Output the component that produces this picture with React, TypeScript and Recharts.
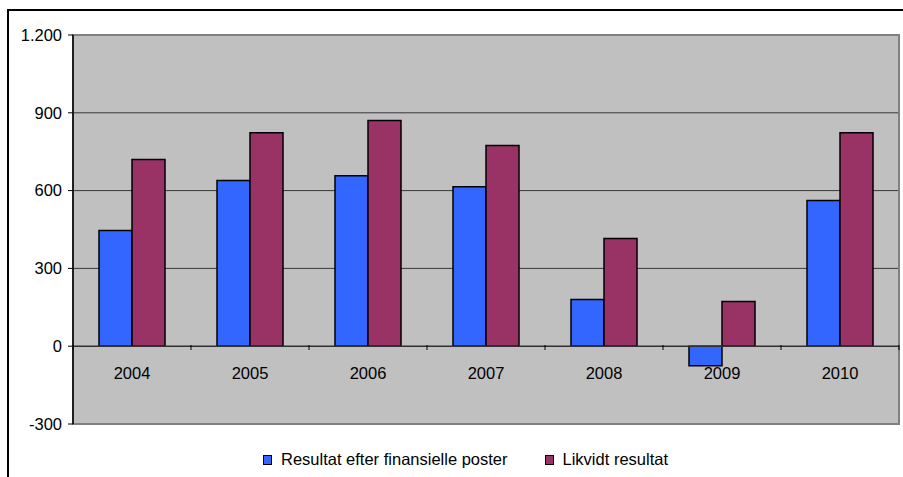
import {
  BarChart, Bar, XAxis, YAxis, CartesianGrid, ReferenceLine, ReferenceArea, Legend,
} from "recharts";

const years = ["2004", "2005", "2006", "2007", "2008", "2009", "2010"];
const resultatEfterFin = [446, 639, 657, 615, 180, -75, 562];
const likvidtResultat = [720, 823, 870, 774, 415, 172, 823];
const yTicks = [-300, 0, 300, 600, 900, 1200];

const data = years.map((year, i) => ({
  year,
  resultat: resultatEfterFin[i],
  likvidt: likvidtResultat[i],
}));

const FONT = "'Liberation Sans', Arial, sans-serif";
const fmt = (v: number) => v.toLocaleString("da-DK");

// category labels sit just under the zero line, inside the plot
const YearTick = ({ x, y, payload, index }: any) => {
  const half = payload.offset ?? 59;
  const zeroY = y - 87;
  return (
    <g>
      <line x1={x - half} x2={x - half} y1={zeroY} y2={zeroY + 5} stroke="#000" />
      {index === years.length - 1 && (
        <line x1={x + half} x2={x + half} y1={zeroY} y2={zeroY + 5} stroke="#000" />
      )}
      <text x={x} y={zeroY + 28} textAnchor="middle" dominantBaseline="central"
        fontSize={16.5} fontFamily={FONT} fill="#000">
        {payload.value}
      </text>
    </g>
  );
};

const LegendContent = () => (
  <div style={{ display: "flex", justifyContent: "center", gap: 37, fontFamily: FONT, fontSize: 16.5, color: "#000", paddingLeft: 28 }}>
    <div style={{ display: "flex", alignItems: "center" }}>
      <span style={{ width: 7, height: 8, background: "#3366FF", border: "1.5px solid #000", marginRight: 9 }} />
      Resultat efter finansielle poster
    </div>
    <div style={{ display: "flex", alignItems: "center" }}>
      <span style={{ width: 7, height: 8, background: "#993366", border: "1.5px solid #000", marginRight: 9 }} />
      Likvidt resultat
    </div>
  </div>
);

export default function App() {
  return (
    <div style={{ position: "absolute", left: 0, top: 0, width: 903, height: 477, background: "#fff" }}>
      <div style={{
        position: "absolute", left: 7, top: 9, width: 900, height: 470,
        borderTop: "2px solid #000", borderLeft: "2px solid #000",
      }} />
      <div style={{ position: "absolute", left: 0, top: 0 }}>
        <BarChart width={903} height={477} data={data} barGap={0} barSize={33}
          margin={{ top: 35, right: 4, left: 13, bottom: 23 }}>
          <CartesianGrid vertical={false} horizontalValues={[300, 600, 900]} stroke="#383838" fill="#C0C0C0" fillOpacity={1} />
          <ReferenceArea y1={-300} y2={1200} fill="none" stroke="#808080" strokeWidth={2} ifOverflow="visible" />
          <ReferenceLine y={0} stroke="#303030" strokeWidth={1.5} />
          <XAxis dataKey="year" height={30} axisLine={false} tickLine={false} tick={<YearTick />} interval={0} />
          <YAxis width={60} domain={[-300, 1200]} ticks={yTicks} interval={0} tickFormatter={fmt}
            axisLine={{ stroke: "#000", strokeWidth: 1.5 }} tickLine={{ stroke: "#000" }} tickSize={5} tickMargin={6}
            tick={{ fontSize: 16.5, fontFamily: FONT, fill: "#000" }} />
          <Bar dataKey="resultat" name="Resultat efter finansielle poster" fill="#3366FF"
            stroke="#000" strokeWidth={1.5} isAnimationActive={false} />
          <Bar dataKey="likvidt" name="Likvidt resultat" fill="#993366"
            stroke="#000" strokeWidth={1.5} isAnimationActive={false} />
          <Legend layout="horizontal" verticalAlign="middle" align="center" content={<LegendContent />}
            wrapperStyle={{ top: 450, left: 0, width: 903 }} />
        </BarChart>
      </div>
    </div>
  );
}
